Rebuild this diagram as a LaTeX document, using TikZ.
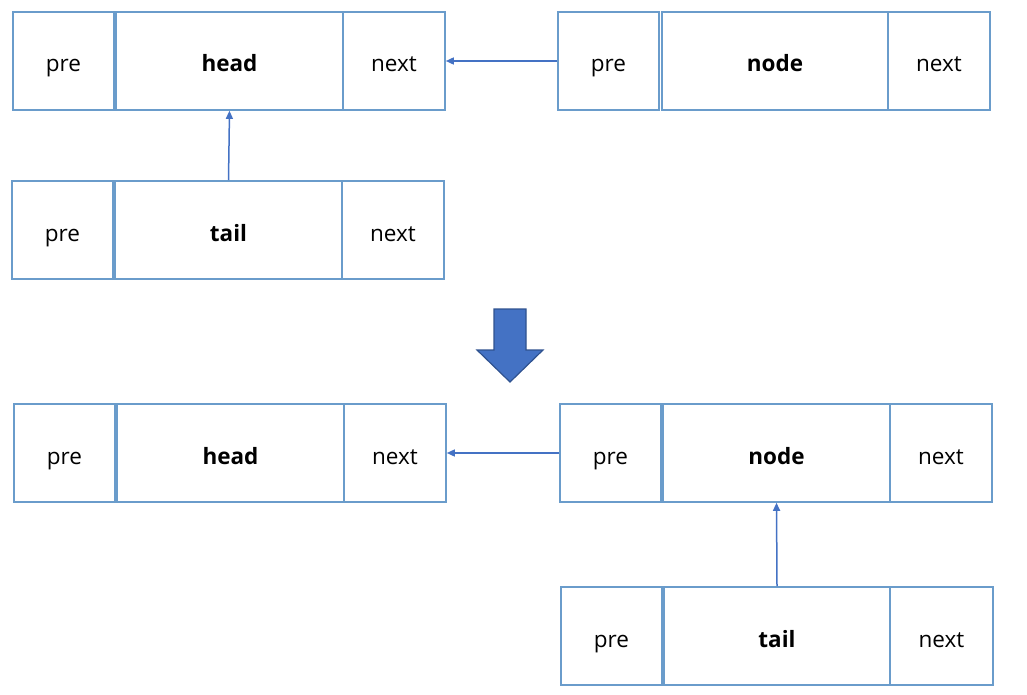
\documentclass[tikz,border=0pt]{standalone}
\usepackage{fontspec}
\setmainfont{Open Sans}
\usetikzlibrary{arrows.meta}
\definecolor{boxc}{HTML}{6A9CCB}
\definecolor{arrc}{HTML}{4472C4}
\definecolor{bigedge}{HTML}{2F528F}
\tikzset{
  cell/.style={draw=boxc, line width=1.6pt, minimum height=98pt, inner sep=0pt,
    text height=23pt, text depth=1pt, font=\fontsize{22.5}{26}\selectfont},
  narrow/.style={cell, minimum width=101pt},
  wide/.style={cell, minimum width=227pt, font=\fontsize{22.5}{26}\selectfont\bfseries},
  arr/.style={draw=arrc, line width=1.5pt, -{Triangle[length=8pt,width=7pt]}},
  bigarrow/.style={fill=arrc, draw=bigedge, line width=1.2pt, line join=miter}
}
\begin{document}
\begin{tikzpicture}[x=1pt,y=-1pt]
\useasboundingbox (0,0) rectangle (1027,695);
% row 1: head
\node[narrow] (h1pre) at (63.5,61) {pre};
\node[wide] (h1head) at (229.5,61) {head};
\node[narrow, minimum width=102pt] (h1next) at (394,61) {next};
% row 1: node
\node[narrow] (n1pre) at (608.5,61) {pre};
\node[wide, minimum width=226pt] (n1node) at (775,61) {node};
\node[narrow, minimum width=102pt] (n1next) at (939,61) {next};
% row 2: tail
\node[narrow] (t1pre) at (62.5,230) {pre};
\node[wide] (t1tail) at (228.5,230) {tail};
\node[narrow, minimum width=102pt] (t1next) at (393,230) {next};
% connectors
\draw[arr] (t1tail.north) -- (h1head.south);
\draw[arr] (n1pre.west) -- (h1next.east);
% big arrow
\draw[bigarrow] (494,309) -- (526,309) -- (526,350) -- (543,350) -- (510,382) -- (477,350) -- (494,350) -- cycle;
% row 3: head
\node[narrow] (h2pre) at (64.5,453) {pre};
\node[wide] (h2head) at (230.5,453) {head};
\node[narrow, minimum width=102pt] (h2next) at (395,453) {next};
% row 3: node
\node[narrow] (n2pre) at (610.5,453) {pre};
\node[wide] (n2node) at (776.5,453) {node};
\node[narrow, minimum width=102pt] (n2next) at (941,453) {next};
% row 4: tail
\node[narrow] (t2pre) at (611.5,636) {pre};
\node[wide, minimum width=226pt] (t2tail) at (777,636) {tail};
\node[narrow, minimum width=103pt] (t2next) at (941.5,636) {next};
% connectors
\draw[arr] (t2tail.north) -- (n2node.south);
\draw[arr] (n2pre.west) -- (h2next.east);
\end{tikzpicture}
\end{document}
